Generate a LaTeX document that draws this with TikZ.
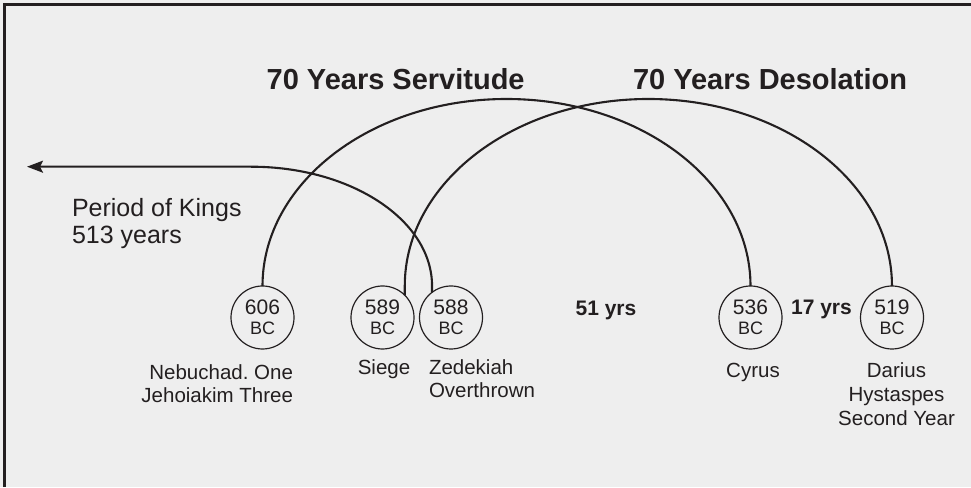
\documentclass[tikz,border=0pt]{standalone}
\usepackage{fontspec}
\setmainfont{Liberation Sans}
\usetikzlibrary{arrows.meta}
\definecolor{ink}{HTML}{231F20}
\definecolor{bg}{HTML}{EEEEEE}
\frenchspacing
\begin{document}
\begin{tikzpicture}[x=1pt,y=1pt,
  every node/.style={text=ink, inner sep=0pt, outer sep=0pt},
  year/.style={circle, draw=ink, line width=1.2pt, minimum size=63pt, align=center,
    font=\fontsize{21}{20}\selectfont},
  arcline/.style={draw=ink, line width=2.1pt},
  title/.style={font=\fontsize{29}{34}\selectfont\bfseries, anchor=base west},
  span/.style={font=\fontsize{21}{24}\selectfont\bfseries, anchor=base},
  lbl/.style={font=\fontsize{20.5}{22.5}\selectfont},
  kings/.style={font=\fontsize{25}{27}\selectfont, align=left, anchor=north west},
  tipend/.style={-{Stealth[length=16pt,width=12pt,inset=3pt]}}
]
\useasboundingbox (0,0) rectangle (971,487);
\fill[bg] (0,0) rectangle (971,487);
\draw[ink, line width=3pt] (4.8,0) -- (4.8,482.2) -- (971,482.2);

% year circles
\node[year] (c606) at (262.5,169.5) {606\\{\fontsize{18}{20}\selectfont BC}};
\node[year] (c589) at (382.5,169.5) {589\\{\fontsize{18}{20}\selectfont BC}};
\node[year] (c588) at (451,169.5) {588\\{\fontsize{18}{20}\selectfont BC}};
\node[year] (c536) at (750.5,169.5) {536\\{\fontsize{18}{20}\selectfont BC}};
\node[year] (c519) at (892,169.5) {519\\{\fontsize{18}{20}\selectfont BC}};

% titles
\node[title] (tserv) at (266.7,397) {70 Years Servitude};
\node[title] (tdeso) at (633,397) {70 Years Desolation};

% spans
\node[span] (y51) at (606,171) {51 yrs};
\node[span] (y17) at (821.5,172) {17 yrs};

% period of kings
\node[kings] (pk) at (72,288.5) {Period of Kings\\513 years};
\coordinate (tip) at (27,320.3);

% labels
\node[lbl, align=right, anchor=north east] (lneb) at (293,122) {Nebuchad.\ One\\Jehoiakim Three};
\node[lbl, anchor=north] (lsiege) at (384,127) {Siege};
\node[lbl, align=left, anchor=north west] (lzed) at (429,127) {Zedekiah\\Overthrown};
\node[lbl, anchor=north] (lcyrus) at (753,124) {Cyrus};
\node[lbl, align=center, anchor=north, font=\fontsize{20.5}{24}\selectfont] (ldar) at (896.5,124) {Darius\\Hystaspes\\Second Year};

% arcs
\draw[arcline] (c606.north) arc[start angle=180, end angle=0, x radius=244pt, y radius=187pt];
\draw[arcline] (c589.45) -- ++(0,9.23) arc[start angle=180, end angle=0, x radius=243.6pt, y radius=187pt];
\draw[arcline, tipend] (c588.127) -- ++(0,6.34) arc[start angle=0, end angle=90, x radius=181pt, y radius=119.3pt] -- (tip);
\end{tikzpicture}
\end{document}
